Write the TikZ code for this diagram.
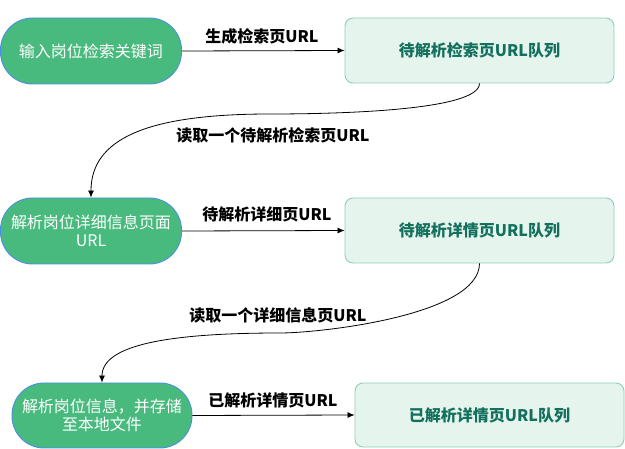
\documentclass[tikz,border=0pt]{standalone}
\usepackage{fontspec}
\setmainfont{Noto Sans CJK SC}
\usetikzlibrary{arrows.meta}
\definecolor{greenfill}{RGB}{72,186,126}
\definecolor{greenborder}{RGB}{74,144,226}
\definecolor{boxfill}{RGB}{230,244,238}
\definecolor{boxborder}{RGB}{140,208,180}
\definecolor{boxtext}{RGB}{18,112,92}
\tikzset{
  stadium/.style={draw=greenborder, fill=greenfill, line width=0.9pt, rounded corners=32pt,
    minimum width=181pt, minimum height=66pt, inner sep=0pt, align=center, text=white,
    font=\fontsize{16}{18}\selectfont},
  queuebox/.style={draw=boxborder, fill=boxfill, line width=0.9pt, rounded corners=8pt,
    minimum width=269pt, minimum height=65pt, inner sep=0pt, text=boxtext,
    font=\fontsize{16}{18}\selectfont\bfseries},
  lbl/.style={inner sep=0pt, font=\fontsize{16}{18}\selectfont\bfseries, text=black},
  conn/.style={line width=0.8pt, -{Latex[length=7pt,width=6pt]}},
}
\begin{document}
\begin{tikzpicture}[x=1pt,y=-1pt]
\useasboundingbox (0,0) rectangle (625,449);
\node[stadium] (n1) at (91,51) {输入岗位检索关键词};
\node[stadium] (n2) at (91,231) {解析岗位详细信息页面\\URL};
\node[stadium, minimum width=180pt, minimum height=65pt] (n3) at (102,415.5) {解析岗位信息，并存储\\至本地文件};
\node[queuebox] (b1) at (479.5,50.5) {待解析检索页URL队列};
\node[queuebox] (b2) at (479.5,230.5) {待解析详情页URL队列};
\node[queuebox, minimum height=64pt] (b3) at (489.5,415) {已解析详情页URL队列};
\draw[conn] (n1.east) -- (b1.west);
\draw[conn] (n2.east) -- (b2.west);
\draw[conn] (n3.east) -- (b3.west);
\node[lbl] (l1) at (262,36) {生成检索页URL};
\node[lbl] (l2) at (267,214) {待解析详细页URL};
\node[lbl] (l3) at (273,400) {已解析详情页URL};
\coordinate (m1) at (270,114);
\coordinate (m2) at (280,333);
\draw[conn] (b1.south) .. controls +(0,27) and +(70,0) .. (m1) .. controls +(-125,0) and +(0,-58) .. (n2.north);
\draw[conn] (b2.south) .. controls +(0,52) and +(40,0) .. (m2) .. controls +(-110,0) and +(0,-38) .. (n3.north);
\node[lbl] (l4) at (273,135) {读取一个待解析检索页URL};
\node[lbl] (l5) at (278,315) {读取一个详细信息页URL};
\end{tikzpicture}
\end{document}
